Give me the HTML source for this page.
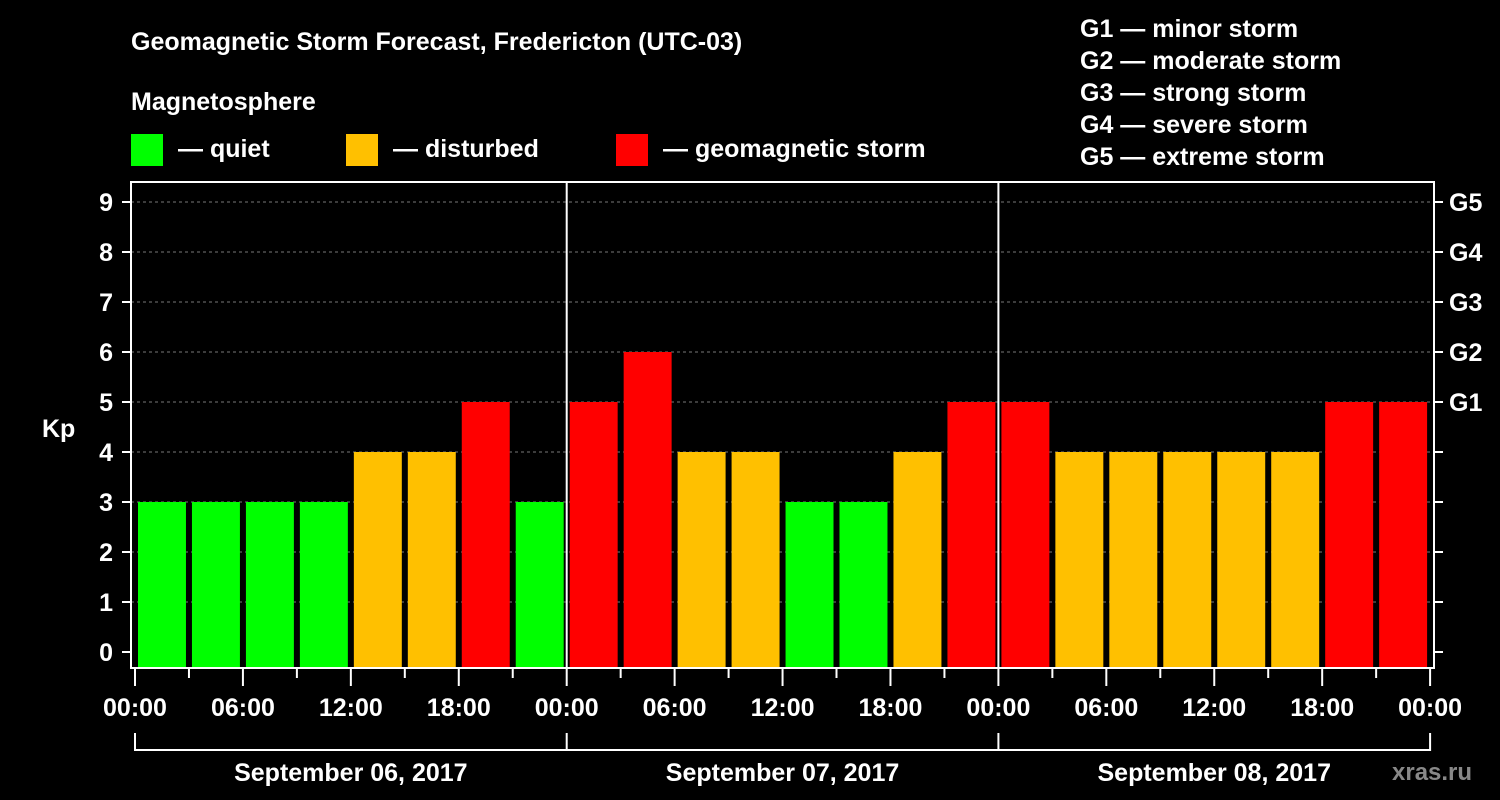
<!DOCTYPE html>
<html><head><meta charset="utf-8"><style>
html,body{margin:0;padding:0;background:#000;}
svg{display:block;font-family:"Liberation Sans",sans-serif;font-weight:bold;}
</style></head><body>
<svg width="1500" height="800" viewBox="0 0 1500 800">
<g id="hdr" fill="#fff" font-size="25">
<text x="131" y="50">Geomagnetic Storm Forecast, Fredericton (UTC-03)</text>
<text x="131" y="110">Magnetosphere</text>
<rect x="131" y="134" width="32" height="32" fill="#00ff00"/>
<text x="178" y="157">— quiet</text>
<rect x="346" y="134" width="32" height="32" fill="#ffc000"/>
<text x="393" y="157">— disturbed</text>
<rect x="616" y="134" width="32" height="32" fill="#ff0000"/>
<text x="663" y="157">— geomagnetic storm</text>
<text x="1080" y="37">G1 — minor storm</text>
<text x="1080" y="69">G2 — moderate storm</text>
<text x="1080" y="101">G3 — strong storm</text>
<text x="1080" y="133">G4 — severe storm</text>
<text x="1080" y="165">G5 — extreme storm</text>
<text x="42" y="437">Kp</text>
<text x="1392" y="780" fill="#888" font-size="24">xras.ru</text>
</g>
<g id="plot"></g>
</svg>
<script>
const kpValues=[3,3,3,3,4,4,5,3, 5,6,4,4,3,3,4,5, 5,4,4,4,4,4,5,5];
const dayLabels=["September 06, 2017","September 07, 2017","September 08, 2017"];
const timeLabels=["00:00","06:00","12:00","18:00"];
const yTicks=[0,1,2,3,4,5,6,7,8,9];
const gLabels=["G1","G2","G3","G4","G5"];
const NS="http://www.w3.org/2000/svg";
const g=document.getElementById('plot');
const X0=135,DAY=431.7,L=131,R=1434,T=182,B=668;
const x=h=>X0+h*DAY/24;
const y=v=>652-v*50;
function el(t,a){const e=document.createElementNS(NS,t);for(const k in a)e.setAttribute(k,a[k]);g.appendChild(e);return e;}
yTicks.forEach(v=>{
 if(v>0){const gl=el('line',{x1:L,x2:R,y1:y(v),y2:y(v),stroke:'#777','stroke-dasharray':'3,3','stroke-width':1});
 
 }
 const tk=el('line',{x1:122,x2:L,y1:y(v),y2:y(v),stroke:'#fff','stroke-width':2});
 
 
 const tr=el('line',{x1:R,x2:R+9,y1:y(v),y2:y(v),stroke:'#fff','stroke-width':2});
 
 
 const t=el('text',{x:113,y:y(v)+9,fill:'#fff','font-size':25,'text-anchor':'end'});
 t.textContent=v;
 
 
});
gLabels.forEach((s,i)=>{
 const t=el('text',{x:1449,y:y(5+i)+9,fill:'#fff','font-size':25});
 t.textContent=s;
 
 
});
kpValues.forEach((v,i)=>{
 const c=v>=5?'#ff0000':v>=4?'#ffc000':'#00ff00';
 const r=el('rect',{x:x(i*3)+3,y:y(v),width:DAY/8-6,height:B-y(v),fill:c});
 
 
});
for(let d=1;d<3;d++){const s=el('line',{x1:x(d*24),x2:x(d*24),y1:T,y2:B,stroke:'#fff','stroke-width':2});
 
 }
const fr=el('rect',{x:L,y:T,width:R-L,height:B-T,fill:'none',stroke:'#fff','stroke-width':2});


for(let h=0;h<=72;h+=3){
 const major=h%6===0;
 const tk=el('line',{x1:x(h),x2:x(h),y1:B,y2:major?686:678,stroke:'#fff','stroke-width':2});
 
 
 if(major){const t=el('text',{x:x(h),y:716,fill:'#fff','font-size':25,'text-anchor':'middle'});
 t.textContent=timeLabels[(h/6)%4];
 
 }
}
const br=el('line',{x1:x(0),x2:x(72),y1:750,y2:750,stroke:'#fff','stroke-width':2});


for(let d=0;d<=3;d++){const v=el('line',{x1:x(d*24),x2:x(d*24),y1:733,y2:751,stroke:'#fff','stroke-width':2});
 
 }
dayLabels.forEach((s,d)=>{
 const t=el('text',{x:x(d*24+12),y:781,fill:'#fff','font-size':25,'text-anchor':'middle'});
 t.textContent=s;
 
 
});
</script>
</body></html>
